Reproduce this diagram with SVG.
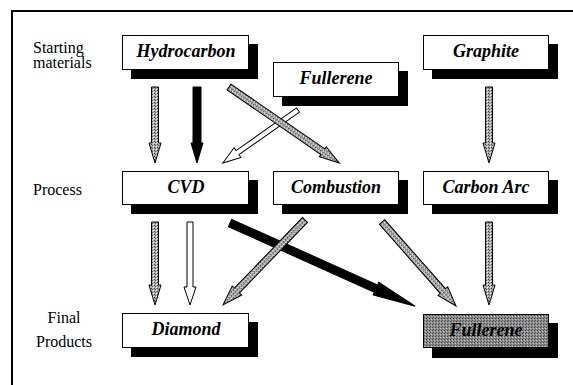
<svg xmlns="http://www.w3.org/2000/svg" width="573" height="385" viewBox="0 0 573 385">
<style>
.box{fill:#fff;stroke:#000;stroke-width:1}
.shadow{fill:#000}
.lbl{font-family:'Liberation Serif','Times New Roman',serif;font-weight:bold;font-style:italic;font-size:18px;text-anchor:middle}
.side{font-family:'Liberation Serif','Times New Roman',serif;font-size:16px}
.ag{fill:url(#stip);stroke:#000;stroke-width:1}
.ab{fill:#000;stroke:#000;stroke-width:1}
.aw{fill:#fff;stroke:#000;stroke-width:1}
</style>
<defs>
<pattern id="stip" width="3" height="3" patternUnits="userSpaceOnUse">
<rect width="3" height="3" fill="#b0b0b0"/>
<rect x="0" y="0" width="1" height="1" fill="#404040"/>
<rect x="2" y="1" width="1" height="1" fill="#f0f0f0"/>
<rect x="1" y="2" width="1" height="1" fill="#606060"/>
</pattern>
<pattern id="dark" width="3" height="3" patternUnits="userSpaceOnUse">
<rect width="3" height="3" fill="#8c8c8c"/>
<rect x="0" y="0" width="1" height="1" fill="#444"/>
<rect x="2" y="1" width="1" height="1" fill="#c0c0c0"/>
<rect x="1" y="2" width="1" height="1" fill="#5a5a5a"/>
</pattern>
</defs>
<rect width="573" height="385" fill="#fff"/>
<path d="M12 385 V11 H573" fill="none" stroke="#000" stroke-width="2"/>
<g id="side-labels">
<text class="side" x="33" y="53">Starting</text>
<text class="side" x="33" y="68">materials</text>
<text class="side" x="33" y="195">Process</text>
<text class="side" x="64" y="323" text-anchor="middle">Final</text>
<text class="side" x="64" y="347" text-anchor="middle">Products</text>
</g>
<g id="connectors">
<polygon class="ag" transform="translate(155,87) rotate(90)" points="0,-3.5 56,-3.5 56,-6 76,0 56,6 56,3.5 0,3.5"/>
<polygon class="ab" transform="translate(197,87) rotate(90)" points="0,-4 56,-4 56,-6 76,0 56,6 56,4 0,4"/>
<polygon class="aw" transform="translate(298,110) rotate(144.8)" points="0,-2.5 74,-2.5 74,-6 92,0 74,6 74,2.5 0,2.5"/>
<polygon class="ag" transform="translate(229,87) rotate(34.6)" points="0,-3.5 114,-3.5 114,-6 134,0 114,6 114,3.5 0,3.5"/>
<polygon class="ag" transform="translate(489,87) rotate(90)" points="0,-3.5 56,-3.5 56,-6 76,0 56,6 56,3.5 0,3.5"/>
<polygon class="ag" transform="translate(155,222) rotate(90)" points="0,-3.5 63,-3.5 63,-6 83,0 63,6 63,3.5 0,3.5"/>
<polygon class="aw" transform="translate(190,222) rotate(90)" points="0,-3 65,-3 65,-6 83,0 65,6 65,3 0,3"/>
<polygon class="ab" transform="translate(230,223) rotate(24.2)" points="0,-4 160,-4 160,-7 203,0 160,7 160,4 0,4"/>
<polygon class="ag" transform="translate(305,220) rotate(134)" points="0,-3.5 98,-3.5 98,-6.5 118,0 98,6.5 98,3.5 0,3.5"/>
<polygon class="ag" transform="translate(382,222) rotate(48.6)" points="0,-3.5 92,-3.5 92,-6.5 112,0 92,6.5 92,3.5 0,3.5"/>
<polygon class="ag" transform="translate(489,222) rotate(90)" points="0,-3.5 63,-3.5 63,-6 83,0 63,6 63,3.5 0,3.5"/>
</g>
<g id="hydrocarbon">
<rect class="shadow" x="131" y="44" width="127" height="35"/>
<rect class="box" x="122.5" y="35.5" width="126" height="34"/>
<text class="lbl" x="186" y="57">Hydrocarbon</text>
</g>
<g id="fullerene-start">
<rect class="shadow" x="282" y="71" width="126" height="35"/>
<rect class="box" x="273.5" y="62.5" width="125" height="34"/>
<text class="lbl" x="336" y="84">Fullerene</text>
</g>
<g id="graphite">
<rect class="shadow" x="432" y="44" width="126" height="35"/>
<rect class="box" x="423.5" y="35.5" width="125" height="34"/>
<text class="lbl" x="486" y="57">Graphite</text>
</g>
<g id="cvd">
<rect class="shadow" x="131" y="180" width="127" height="34"/>
<rect class="box" x="122.5" y="171.5" width="126" height="33"/>
<text class="lbl" x="186" y="193">CVD</text>
</g>
<g id="combustion">
<rect class="shadow" x="282" y="180" width="126" height="34"/>
<rect class="box" x="273.5" y="171.5" width="125" height="33"/>
<text class="lbl" x="336" y="193">Combustion</text>
</g>
<g id="carbon-arc">
<rect class="shadow" x="432" y="180" width="126" height="34"/>
<rect class="box" x="423.5" y="171.5" width="125" height="33"/>
<text class="lbl" x="486" y="193">Carbon Arc</text>
</g>
<g id="diamond">
<rect class="shadow" x="131" y="322" width="127" height="35"/>
<rect class="box" x="122.5" y="313.5" width="126" height="34"/>
<text class="lbl" x="186" y="335">Diamond</text>
</g>
<g id="fullerene-final">
<rect class="shadow" x="432" y="323" width="126" height="35"/>
<rect x="423.5" y="314.5" width="125" height="33" fill="url(#dark)" stroke="#000" stroke-width="1"/>
<text class="lbl" x="486" y="336">Fullerene</text>
</g>
</svg>
